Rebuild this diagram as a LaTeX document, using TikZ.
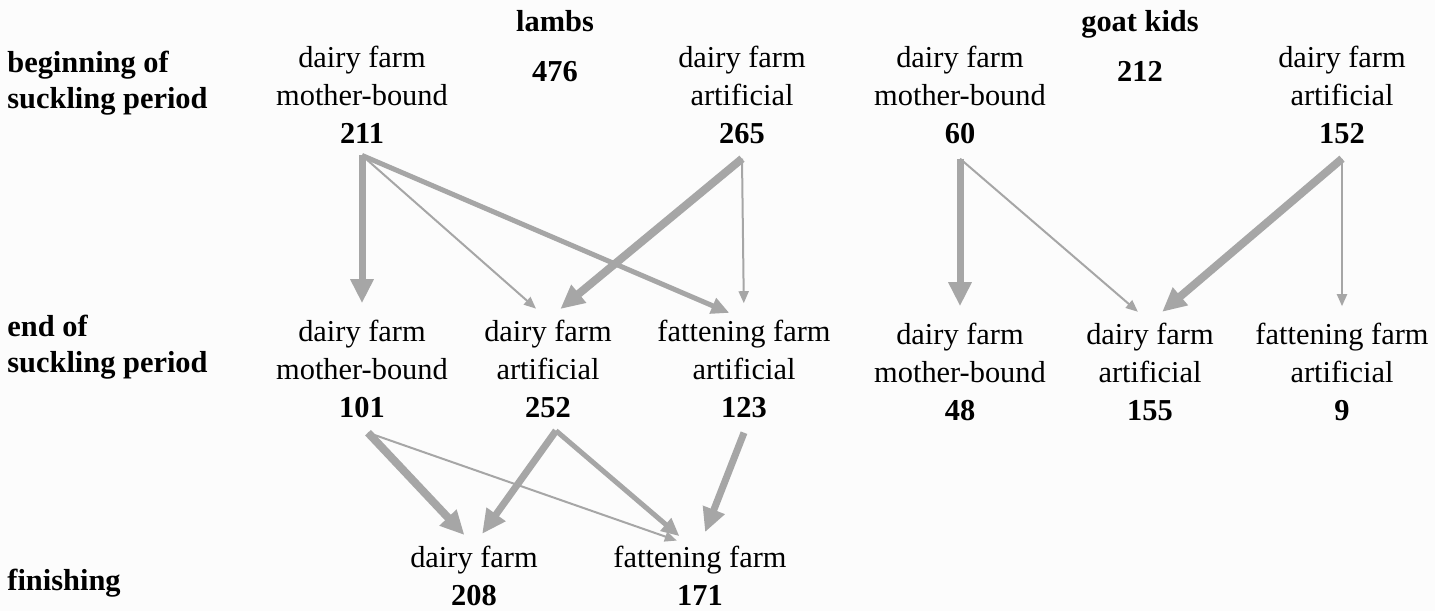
\documentclass[tikz,border=0pt]{standalone}
\usepackage{fontspec}
\setmainfont{Liberation Serif}
\usetikzlibrary{arrows.meta}
\definecolor{flusso}{RGB}{166,166,166}
\definecolor{fondo}{RGB}{252,252,252}

\begin{document}
\begin{tikzpicture}[x=0.5pt, y=-0.5pt,
  testo/.style={align=center, inner sep=0pt, anchor=base, font=\fontsize{15.2}{19}\selectfont},
  numero/.style={inner sep=0pt, anchor=base, font=\fontsize{15.2}{19}\selectfont\bfseries},
  fase/.style={align=left, inner sep=0pt, anchor=base west, font=\fontsize{15.2}{18}\selectfont\bfseries},
  sottile/.style={-{Triangle[length=6pt, width=5pt]}, line width=1pt, flusso},
  medio/.style={-{Triangle[length=9pt, width=8pt]}, line width=2.5pt, flusso},
  spesso/.style={-{Triangle[length=12pt, width=11pt]}, line width=3.5pt, flusso},
  pesante/.style={-{Triangle[length=12pt, width=11pt]}, line width=4pt, flusso},
  primo/.style={shorten >=8pt},
  secondo/.style={shorten >=7pt}]

% Sfondo
\fill[fondo] (0,0) rectangle (1435,611);
\useasboundingbox (0,0) rectangle (1435,611);

% Intestazioni
\node[numero] (agnelli) at (555,31) {lambs};
\node[numero] (capretti) at (1140,31) {goat kids};
\node[numero] (tot476) at (555,81) {476};
\node[numero] (tot212) at (1140,81) {212};

% Fasi (ancora sull'ultima riga)
\node[fase] (fase1) at (7,108) {beginning of\\suckling period};
\node[fase] (fase2) at (7,372) {end of\\suckling period};
\node[fase] (fase3) at (7,590) {finishing};

% Agnelli: inizio allattamento
\node[testo] (l211) at (362,143) {dairy farm\\mother-bound\\\textbf{211}};
\node[testo] (l265) at (742,143) {dairy farm\\artificial\\\textbf{265}};

% Agnelli: fine allattamento
\node[testo] (l101) at (362,417) {dairy farm\\mother-bound\\\textbf{101}};
\node[testo] (l252) at (548,417) {dairy farm\\artificial\\\textbf{252}};
\node[testo] (l123) at (744,417) {fattening farm\\artificial\\\textbf{123}};

% Agnelli: finissaggio
\node[testo] (l208) at (474,605) {dairy farm\\\textbf{208}};
\node[testo] (l171) at (700,605) {fattening farm\\\textbf{171}};

% Capretti: inizio allattamento
\node[testo] (c60) at (960,143) {dairy farm\\mother-bound\\\textbf{60}};
\node[testo] (c152) at (1342,143) {dairy farm\\artificial\\\textbf{152}};

% Capretti: fine allattamento
\node[testo] (c48) at (960,420) {dairy farm\\mother-bound\\\textbf{48}};
\node[testo] (c155) at (1150,420) {dairy farm\\artificial\\\textbf{155}};
\node[testo] (c9) at (1342,420) {fattening farm\\artificial\\\textbf{9}};

% Flussi agnelli
\draw[spesso, primo] ([yshift=-6pt]l211.south) -- (l101.north);
\draw[sottile, primo] ([yshift=-6pt]l211.south) -- (l252.north);
\draw[medio, primo] ([yshift=-6pt]l211.south) -- (l123.north);
\draw[pesante, primo] ([yshift=-7.5pt]l265.south) -- (l252.north);
\draw[sottile, primo] ([yshift=-7.5pt]l265.south) -- (l123.north);

\draw[pesante, secondo] ([xshift=3pt, yshift=-7.5pt]l101.south) -- (l208.north);
\draw[sottile, secondo] ([xshift=3pt, yshift=-7.5pt]l101.south) -- ([xshift=-5pt]l171.north);
\draw[spesso, secondo] ([xshift=4pt, yshift=-6.5pt]l252.south) -- (l208.north);
\draw[medio, secondo] ([xshift=4pt, yshift=-6.5pt]l252.south) -- ([xshift=-5pt]l171.north);
\draw[spesso, secondo] ([yshift=-7.5pt]l123.south) -- (l171.north);

% Flussi capretti
\draw[spesso, primo] ([yshift=-7.5pt]c60.south) -- (c48.north);
\draw[sottile, primo] ([yshift=-7.5pt]c60.south) -- (c155.north);
\draw[pesante, primo] ([yshift=-7.5pt]c152.south) -- (c155.north);
\draw[sottile, primo] ([yshift=-7.5pt]c152.south) -- (c9.north);

\end{tikzpicture}
\end{document}
